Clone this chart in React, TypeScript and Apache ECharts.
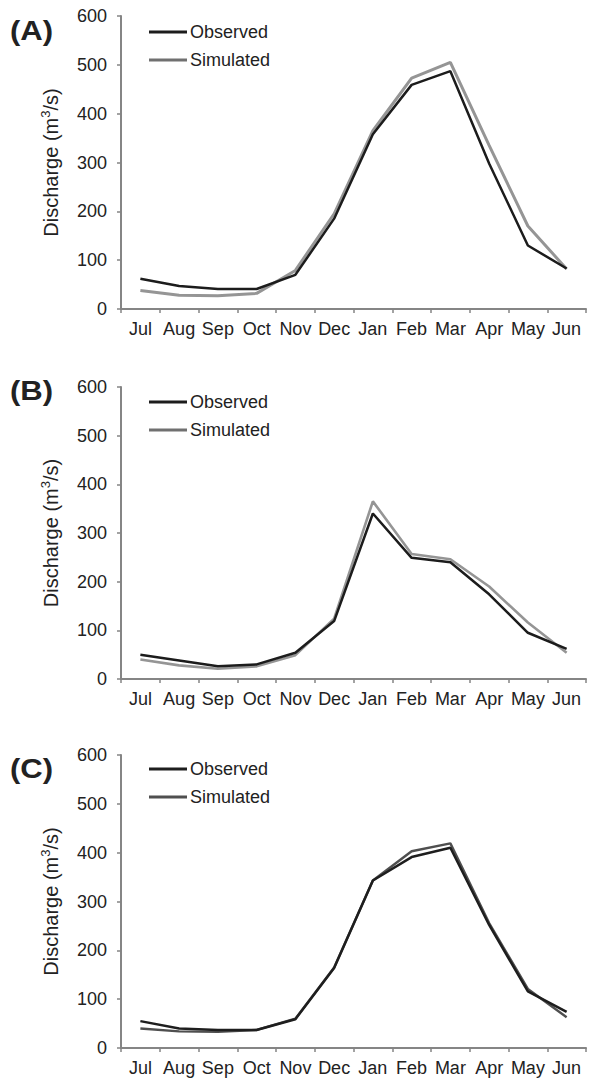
import React, { useEffect, useRef } from "react";
import * as echarts from "echarts";

const months = ["Jul", "Aug", "Sep", "Oct", "Nov", "Dec", "Jan", "Feb", "Mar", "Apr", "May", "Jun"];
const panelLabels = ["(A)", "(B)", "(C)"];
const yTicks = { min: 0, max: 600, interval: 100 };

const observedA = [62, 47, 41, 41, 70, 185, 358, 459, 487, 298, 130, 83];
const simulatedA = [38, 28, 27, 32, 79, 195, 365, 473, 505, 335, 170, 82];
const observedB = [50, 38, 26, 30, 54, 119, 340, 249, 240, 174, 95, 62];
const simulatedB = [40, 28, 21, 26, 49, 124, 365, 257, 246, 190, 116, 54];
const observedC = [55, 40, 37, 37, 59, 164, 343, 391, 410, 252, 116, 74];
const simulatedC = [40, 34, 33, 37, 60, 165, 343, 403, 419, 256, 121, 63];

const observed = [observedA, observedB, observedC];
const simulated = [simulatedA, simulatedB, simulatedC];

const FONT = "Liberation Sans, Arial, Helvetica, sans-serif";

export default function App() {
  const ref = useRef<HTMLDivElement>(null);
  useEffect(() => {
    document.body.style.margin = "0";
    if (!ref.current) return;
    const chart = echarts.init(ref.current, null, { renderer: "svg" });
    const tops = [16, 387, 755];
    const heights = [293, 292, 293];
    const legendTops = [18, 388, 755];
    const labelYs = [31, 391, 769];
    const obsColors = ["#1c1c1c", "#1c1c1c", "#1e1e1e"];
    const simColors = ["#959595", "#959595", "#4f4f4f"];
    const simWidths = [3, 2.6, 2.4];

    const grid: any[] = [];
    const xAxis: any[] = [];
    const yAxis: any[] = [];
    const series: any[] = [];
    const legend: any[] = [];
    const graphic: any[] = [];

    for (let i = 0; i < 3; i++) {
      grid.push({ left: 121, right: 3, top: tops[i], height: heights[i], containLabel: false });
      xAxis.push({
        type: "category",
        gridIndex: i,
        data: months,
        boundaryGap: true,
        axisLine: { lineStyle: { color: "#858585", width: 2 } },
        axisTick: { show: true, length: 4, lineStyle: { color: "#858585", width: 1.5 } },
        axisLabel: { color: "#222", fontSize: 18, fontFamily: FONT, margin: 11, interval: 0 },
        splitLine: { show: false },
      });
      yAxis.push({
        type: "value",
        gridIndex: i,
        min: yTicks.min,
        max: yTicks.max,
        interval: yTicks.interval,
        axisLine: { show: true, lineStyle: { color: "#858585", width: 2 } },
        axisTick: { show: true, length: 4, lineStyle: { color: "#858585", width: 1.5 } },
        axisLabel: { color: "#222", fontSize: 18, fontFamily: FONT, margin: 14 },
        splitLine: { show: false },
        name: "{n|Discharge (m}{s|3}{n|/s)}",
        nameLocation: "middle",
        nameRotate: 90,
        nameGap: 58,
        nameTextStyle: {
          rich: {
            n: { fontSize: 20, fontFamily: FONT, color: "#222", lineHeight: 24 },
            s: { fontSize: 13, fontFamily: FONT, color: "#222", lineHeight: 13, verticalAlign: "top" },
          },
        },
      });
      series.push({
        name: "Observed",
        type: "line",
        xAxisIndex: i,
        yAxisIndex: i,
        data: observed[i],
        symbol: "none",
        lineStyle: { color: obsColors[i], width: 2.5 },
        itemStyle: { color: obsColors[i] },
      });
      series.push({
        name: "Simulated",
        type: "line",
        xAxisIndex: i,
        yAxisIndex: i,
        data: simulated[i],
        symbol: "none",
        lineStyle: { color: simColors[i], width: simWidths[i] },
        itemStyle: { color: i === 2 ? simColors[i] : "#707070" },
        z: 1,
      });
      legend.push({
        left: 144,
        top: legendTops[i],
        orient: "vertical",
        icon: "rect",
        itemWidth: 38,
        itemHeight: 3,
        itemGap: 10,
        selectedMode: false,
        textStyle: { fontSize: 18, fontFamily: FONT, color: "#222", padding: [0, 0, 0, -2] },
        data: [
          { name: "Observed", itemStyle: { color: obsColors[i] } },
          { name: "Simulated", itemStyle: { color: i === 2 ? simColors[i] : "#707070" } },
        ],
      });
      graphic.push({
        type: "text",
        x: 10,
        y: labelYs[i] - 14,
        scaleX: 1.15,
        style: { text: panelLabels[i], font: `bold 27px ${FONT}`, fill: "#222" },
      });
    }

    chart.setOption({
      animation: false,
      backgroundColor: "#fff",
      grid,
      xAxis,
      yAxis,
      series,
      legend,
      graphic,
    });
    return () => chart.dispose();
  }, []);
  return <div ref={ref} style={{ width: 589, height: 1079 }} />;
}
